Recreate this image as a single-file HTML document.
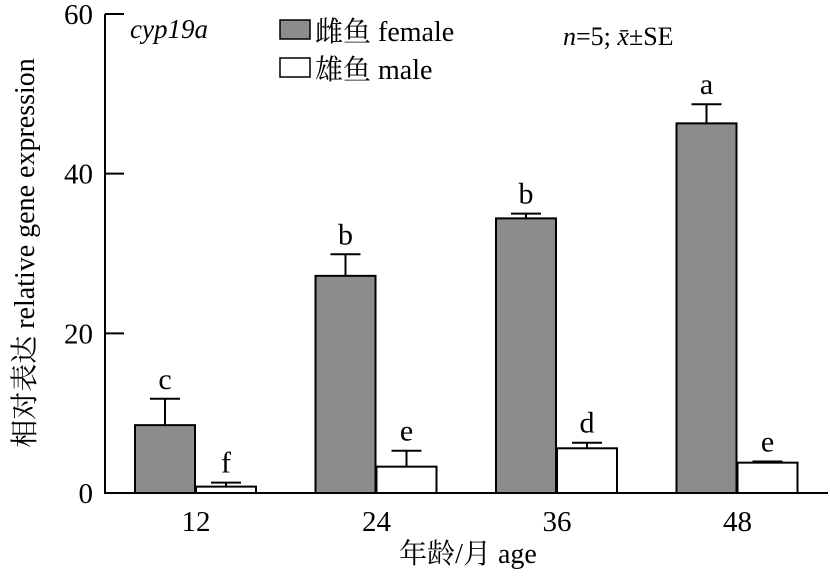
<!DOCTYPE html>
<html><head><meta charset="utf-8"><style>
html,body{margin:0;padding:0;background:#fff;}
svg text{font-family:"Liberation Serif","Noto Serif CJK SC",serif;fill:#000;}
</style></head><body>
<svg width="830" height="582" viewBox="0 0 830 582">
<g id="axes"></g><g id="bars"></g>
<text x="130" y="38" style="font-size:27px" font-style="italic">cyp19a</text>
<g>
<rect x="280" y="20" width="30" height="19" fill="#8c8c8c" stroke="#000" stroke-width="1.5"/>
<text x="315" y="41" style="font-size:28px">雌鱼 female</text>
<rect x="280" y="58" width="30" height="19" fill="#fff" stroke="#000" stroke-width="1.5"/>
<text x="315" y="79" style="font-size:28px">雄鱼 male</text>
</g>
<text x="563" y="45" style="font-size:26px"><tspan font-style="italic">n</tspan>=5; <tspan font-style="italic">x̄</tspan>±SE</text>
<text x="468" y="563" style="font-size:28px" text-anchor="middle">年龄/月 age</text>
<text transform="translate(34,253) rotate(-90)" style="font-size:28px" text-anchor="middle">相对表达 relative gene expression</text>
</svg>
<script>
const categories=["12","24","36","48"];
const femaleVals=[8.5,27.2,34.4,46.3];
const femaleErr=[3.3,2.7,0.6,2.4];
const maleVals=[0.8,3.3,5.6,3.8];
const maleErr=[0.5,2.0,0.7,0.15];
const femaleLetters=["c","b","b","a"];
const maleLetters=["f","e","d","e"];
const yTicks=[0,20,40,60];
const NS="http://www.w3.org/2000/svg";
const y0=493,yTop=14,ymax=60,x0=105;
function y(v){return y0-(v/ymax)*(y0-yTop);}
function cx(i){return 196+i*180.5;}
function mk(t,a,p){const e=document.createElementNS(NS,t);for(const k in a)e.setAttribute(k,a[k]);p.appendChild(e);return e;}
const ax=document.getElementById('axes'),bg=document.getElementById('bars');
const yl=mk('line',{x1:x0,y1:yTop,x2:x0,y2:y0,stroke:'#000','stroke-width':2},ax);


const xl=mk('line',{x1:x0-1,y1:y0,x2:828,y2:y0,stroke:'#000','stroke-width':2},ax);


yTicks.forEach(t=>{
 const l=mk('line',{x1:x0,y1:y(t),x2:x0+19,y2:y(t),stroke:'#000','stroke-width':2},ax);
 
 
 const tx=mk('text',{x:x0-12,y:y(t)+10,style:'font-size:29px','text-anchor':'end'},ax);tx.textContent=t;
 
 
});
categories.forEach((c,i)=>{
 const tx=mk('text',{x:cx(i),y:531,style:'font-size:29px','text-anchor':'middle'},ax);tx.textContent=c;
 
 
 [[femaleVals,femaleErr,femaleLetters,-61,'#8c8c8c','female'],[maleVals,maleErr,maleLetters,0,'#fff','male']].forEach(([v,e,L,off,fill,nm])=>{
  const x=cx(i)+off,w=60,top=y(v[i]);
  const r=mk('rect',{x:x,y:top,width:w,height:y0-top,fill:fill,stroke:'#000','stroke-width':2},bg);
  
  
  const et=y(v[i]+e[i]),m=x+w/2;
  const el=mk('path',{d:`M${m} ${top}V${et}M${m-15} ${et}H${m+15}`,stroke:'#000','stroke-width':2,fill:'none'},bg);
  
  
  const lt=mk('text',{x:m,y:et-10,style:'font-size:30px','text-anchor':'middle'},bg);lt.textContent=L[i];
  
  
 });
});
</script>
</body></html>
